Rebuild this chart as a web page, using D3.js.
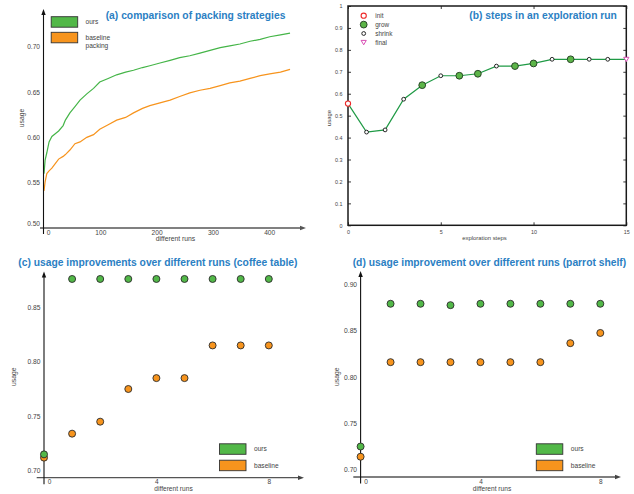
<!DOCTYPE html>
<html><head><meta charset="utf-8">
<script src="https://cdn.jsdelivr.net/npm/d3@7"></script>
<style>body{margin:0;background:#fff}svg{display:block}text{font-family:"Liberation Sans",Arial,sans-serif}</style>
</head><body><svg id="c" width="634" height="494"></svg>
<script>
// ---------- data ----------
// (a) comparison of packing strategies
const runsA = [0, 2, 5, 9, 14, 20, 26, 34, 38, 46, 55, 64, 76, 88, 99, 114, 129, 145, 159, 175, 188, 206, 224, 241, 259, 277, 295, 313, 330, 348, 366, 384, 401, 420, 437];
const oursA = [0.560, 0.575, 0.583, 0.595, 0.601, 0.604, 0.607, 0.613, 0.619, 0.627, 0.634, 0.641, 0.648, 0.654, 0.661, 0.665, 0.669, 0.672, 0.674, 0.677, 0.679, 0.682, 0.685, 0.688, 0.690, 0.693, 0.696, 0.699, 0.701, 0.703, 0.706, 0.708, 0.711, 0.713, 0.715];
const baseA = [0.541, 0.551, 0.560, 0.563, 0.566, 0.571, 0.576, 0.579, 0.581, 0.586, 0.593, 0.595, 0.600, 0.603, 0.609, 0.614, 0.619, 0.622, 0.627, 0.632, 0.635, 0.638, 0.641, 0.645, 0.649, 0.652, 0.654, 0.657, 0.660, 0.662, 0.665, 0.668, 0.670, 0.672, 0.675];
const ticksAx = [0, 100, 200, 300, 400];
const ticksAy = [0.50, 0.55, 0.60, 0.65, 0.70];
const legendA = ["ours", "baseline\npacking"];

// (b) steps in an exploration run
const stepsB = [0, 1, 2, 3, 4, 5, 6, 7, 8, 9, 10, 11, 12, 13, 14, 15];
const usageB = [0.555, 0.425, 0.435, 0.575, 0.639, 0.682, 0.682, 0.691, 0.726, 0.726, 0.738, 0.757, 0.757, 0.757, 0.757, 0.757];
const kindB = ["init", "shrink", "shrink", "shrink", "grow", "shrink", "grow", "grow", "shrink", "grow", "grow", "shrink", "grow", "shrink", "shrink", "final"];
const ticksBx = [0, 5, 10, 15];
const ticksBy = [0, 0.1, 0.2, 0.3, 0.4, 0.5, 0.6, 0.7, 0.8, 0.9, 1];
const legendB = ["init", "grow", "shrink", "final"];

// (c) coffee table
const runsC = [0, 1, 2, 3, 4, 5, 6, 7, 8];
const oursC = [0.715, 0.876, 0.876, 0.876, 0.876, 0.876, 0.876, 0.876, 0.876];
const baseC = [0.712, 0.734, 0.745, 0.775, 0.785, 0.785, 0.815, 0.815, 0.815];
const ticksCx = [0, 4, 8];
const ticksCy = [0.70, 0.75, 0.80, 0.85];

// (d) parrot shelf
const runsD = [0, 1, 2, 3, 4, 5, 6, 7, 8];
const oursD = [0.725, 0.879, 0.879, 0.8775, 0.879, 0.879, 0.879, 0.879, 0.879];
const baseD = [0.714, 0.816, 0.816, 0.816, 0.816, 0.816, 0.816, 0.8365, 0.8475];
const ticksDx = [0, 4, 8];
const ticksDy = [0.70, 0.75, 0.80, 0.85, 0.90];
const legendCD = ["ours", "baseline"];

const titles = ["(a) comparison of packing strategies", "(b) steps in an exploration run",
  "(c) usage improvements over different runs (coffee table)", "(d) usage improvement over different runs (parrot shelf)"];

// ---------- style ----------
const GREEN = "#52b848", ORANGE = "#f7941d", BLUE = "#2b80c3", TXT = "#444";
const svg = d3.select("#c");
svg.append("rect").attr("width", 634).attr("height", 494).attr("fill", "#fff");

function title(txt, x, y) {
  svg.append("text").attr("x", x).attr("y", y).attr("fill", BLUE)
    .attr("font-size", "10.3px").attr("font-weight", "bold").text(txt);
}
function label(txt, x, y, size, rot) {
  const t = svg.append("text").attr("fill", TXT).attr("font-size", size + "px").attr("text-anchor", "middle").text(txt);
  if (rot) t.attr("transform", `translate(${x},${y}) rotate(-90)`).attr("dy", "0.25em");
  else t.attr("x", x).attr("y", y);
}
function arrowUp(x, y, col) {
  svg.append("path").attr("d", `M${x},${y} L${x - 2.2},${y + 6} L${x + 2.2},${y + 6} Z`).attr("fill", col);
}
function arrowRight(x, y, col) {
  svg.append("path").attr("d", `M${x},${y} L${x - 6},${y - 2.2} L${x - 6},${y + 2.2} Z`).attr("fill", col);
}
function leftLabels(scale, ticks, x, fmt, size) {
  const g = svg.append("g").attr("transform", `translate(${x},0)`)
    .call(d3.axisLeft(scale).tickValues(ticks).tickSize(0).tickPadding(3.5).tickFormat(fmt));
  g.select(".domain").remove();
  g.selectAll("text").attr("fill", TXT).attr("font-size", size + "px").attr("font-family", null);
  return g;
}
function bottomLabels(scale, ticks, y, size) {
  const g = svg.append("g").attr("transform", `translate(0,${y})`)
    .call(d3.axisBottom(scale).tickValues(ticks).tickSize(0).tickPadding(0).tickFormat(d3.format("d")));
  g.select(".domain").remove();
  g.selectAll("text").attr("fill", TXT).attr("font-size", size + "px").attr("font-family", null).attr("dy", "0");
  return g;
}
function legendBoxes(x, y0, names, gap, textX) {
  names.forEach((n, i) => {
    const y = y0 + i * gap;
    svg.append("rect").attr("x", x).attr("y", y).attr("width", 26.5).attr("height", 10.5)
      .attr("fill", i === 0 ? GREEN : ORANGE).attr("stroke", "#333").attr("stroke-width", 0.9);
    const lines = n.split("\n");
    lines.forEach((l, k) => {
      svg.append("text").attr("x", textX).attr("y", y + 7.5 + k * 8).attr("fill", TXT)
        .attr("font-size", "6.6px").text(l);
    });
  });
}

// ---------- (a) ----------
{
  const x = d3.scaleLinear([0, 400], [44, 269.2]);
  const y = d3.scaleLinear([0.5, 0.7], [228, 46.7]);
  const line = d3.line().x(d => x(d[0])).y(d => y(d[1]));
  svg.append("path").datum(runsA.map((r, i) => [r, baseA[i]])).attr("d", line)
    .attr("fill", "none").attr("stroke", ORANGE).attr("stroke-width", 1.2);
  svg.append("path").datum(runsA.map((r, i) => [r, oursA[i]])).attr("d", line)
    .attr("fill", "none").attr("stroke", "#45b548").attr("stroke-width", 1.2);
  // axes
  svg.append("line").attr("x1", 40).attr("x2", 301).attr("y1", 228).attr("y2", 228).attr("stroke", "#808080").attr("stroke-width", 1.8);
  arrowRight(306, 228, "#555");
  svg.append("line").attr("x1", 43.5).attr("x2", 43.5).attr("y1", 234).attr("y2", 14).attr("stroke", "#111").attr("stroke-width", 1.1);
  arrowUp(43.5, 9, "#111");
  const gl = leftLabels(y, ticksAy, 43.5, d3.format(".2f"), 6.6);
  gl.selectAll("text").filter(d => d === 0.5).attr("dy", "-0.35em");
  const gb = bottomLabels(x, ticksAx, 235, 6.6);
  gb.selectAll("text").attr("y", 0).filter(d => d === 0).attr("dx", "4");
  label("different runs", 175.5, 240.7, 6.8);
  label("usage", 22.7, 118, 6.8, true);
  legendBoxes(51.2, 16.7, legendA, 15.6, 85.5);
  title(titles[0], 105.7, 19.3);
}

// ---------- (b) ----------
{
  const x = d3.scaleLinear([0, 15], [348, 626.3]);
  const y = d3.scaleLinear([0, 1], [225.3, 6]);
  const fmt = d => (d === 0 || d === 1) ? d3.format("d")(d) : d3.format(".1f")(d);
  const gl = svg.append("g").attr("transform", "translate(348,0)")
    .call(d3.axisLeft(y).tickValues(ticksBy).tickSizeInner(-3).tickSizeOuter(0).tickPadding(5.5).tickFormat(fmt));
  const gr = svg.append("g").attr("transform", "translate(626.3,0)")
    .call(d3.axisRight(y).tickValues(ticksBy).tickSizeInner(-3).tickSizeOuter(0).tickFormat(""));
  const gb = svg.append("g").attr("transform", "translate(0,225.3)")
    .call(d3.axisBottom(x).tickValues(ticksBx).tickSizeInner(-3).tickSizeOuter(0).tickPadding(5).tickFormat(d3.format("d")));
  const gt = svg.append("g").attr("transform", "translate(0,6)")
    .call(d3.axisTop(x).tickValues(ticksBx).tickSizeInner(-3).tickSizeOuter(0).tickFormat(""));
  [gl, gr, gb, gt].forEach(g => {
    g.select(".domain").remove();
    g.selectAll("line").attr("stroke", "#222").attr("stroke-width", 0.9);
    g.selectAll("text").attr("fill", TXT).attr("font-size", "5.4px").attr("font-family", null);
  });
  svg.append("rect").attr("x", 348).attr("y", 6).attr("width", 626.3 - 348).attr("height", 225.3 - 6)
    .attr("fill", "none").attr("stroke", "#1a1a1a").attr("stroke-width", 1.5);
  const pts = stepsB.map((s, i) => ({ s, v: usageB[i], k: kindB[i] }));
  svg.append("path").datum(pts).attr("d", d3.line().x(d => x(d.s)).y(d => y(d.v)))
    .attr("fill", "none").attr("stroke", "#1f9a45").attr("stroke-width", 1.2);
  function marker(k, cx, cy) {
    if (k === "init") svg.append("circle").attr("cx", cx).attr("cy", cy).attr("r", 2.6).attr("fill", "#fff").attr("stroke", "#ee2a2a").attr("stroke-width", 1.1);
    else if (k === "grow") svg.append("circle").attr("cx", cx).attr("cy", cy).attr("r", 3.4).attr("fill", "#5cb548").attr("stroke", "#1f3a1f").attr("stroke-width", 0.9);
    else if (k === "shrink") svg.append("circle").attr("cx", cx).attr("cy", cy).attr("r", 1.9).attr("fill", "#fff").attr("stroke", "#111").attr("stroke-width", 0.9);
    else svg.append("path").attr("d", `M${cx - 2.6},${cy - 2} L${cx + 2.6},${cy - 2} L${cx},${cy + 2.4} Z`).attr("fill", "#fff").attr("stroke", "#d94fb5").attr("stroke-width", 1);
  }
  pts.forEach(p => marker(p.k, x(p.s), y(p.v)));
  legendB.forEach((n, i) => {
    const cy = 15.7 + i * 8.9;
    marker(n, 363.7, cy);
    svg.append("text").attr("x", 375.3).attr("y", cy + 2.3).attr("fill", TXT).attr("font-size", "6.4px").text(n);
  });
  label("exploration steps", 484.5, 240.3, 5.9);
  label("usage", 329.7, 118, 5.9, true);
  title(titles[1], 469.3, 19.3);
}

// ---------- (c) & (d) ----------
function scatterPanel(o) {
  const x = d3.scaleLinear([0, 8], [o.x0, o.x8]);
  const y = d3.scaleLinear([o.ylo, o.yhi], [o.pylo, o.pyhi]);
  svg.append("line").attr("x1", o.axL).attr("x2", o.axR - 5).attr("y1", o.axY).attr("y2", o.axY).attr("stroke", "#555").attr("stroke-width", 1.3);
  arrowRight(o.axR, o.axY, "#444");
  svg.append("line").attr("x1", o.x0).attr("x2", o.x0).attr("y1", o.axY + 6.5).attr("y2", o.axTop + 5).attr("stroke", "#111").attr("stroke-width", 1.1);
  arrowUp(o.x0, o.axTop, "#111");
  leftLabels(y, o.ticksY, o.x0, d3.format(".2f"), 6.7);
  const gb = bottomLabels(x, o.ticksX, o.tickBase, 6.5);
  gb.selectAll("text").attr("y", 0).filter(d => d === 0).attr("dx", "5");
  const draw = (vals, col) => svg.append("g").selectAll("circle").data(o.runs).join("circle")
    .attr("cx", d => x(d)).attr("cy", (d, i) => y(vals[i])).attr("r", 3.5)
    .attr("fill", col).attr("stroke", "#2a2a2a").attr("stroke-width", 0.9);
  draw(o.base, ORANGE);
  draw(o.ours, GREEN);
  legendBoxes(o.legX, 443.8, legendCD, 16.4, o.legX + 34.5);
  label("different runs", o.labX, 491.3, 6.6);
  label("usage", o.usX, 376.7, 6.8, true);
  title(o.title, o.tX, 265.5);
}
scatterPanel({ runs: runsC, ours: oursC, base: baseC, x0: 44, x8: 268.8, ylo: 0.70, yhi: 0.85, pylo: 470.7, pyhi: 307.3,
  axY: 477.7, axL: 36.7, axR: 304, axTop: 271.5, ticksX: ticksCx, ticksY: ticksCy, tickBase: 483.6,
  legX: 219.5, labX: 173.5, usX: 14, title: titles[2], tX: 18.3 });
scatterPanel({ runs: runsD, ours: oursD, base: baseD, x0: 360.6, x8: 600.3, ylo: 0.70, yhi: 0.90, pylo: 469.7, pyhi: 284.3,
  axY: 477, axL: 353.3, axR: 621, axTop: 271, ticksX: ticksDx, ticksY: ticksDy, tickBase: 483.6,
  legX: 536.3, labX: 492, usX: 337.3, title: titles[3], tX: 352.7 });
</script></body></html>
